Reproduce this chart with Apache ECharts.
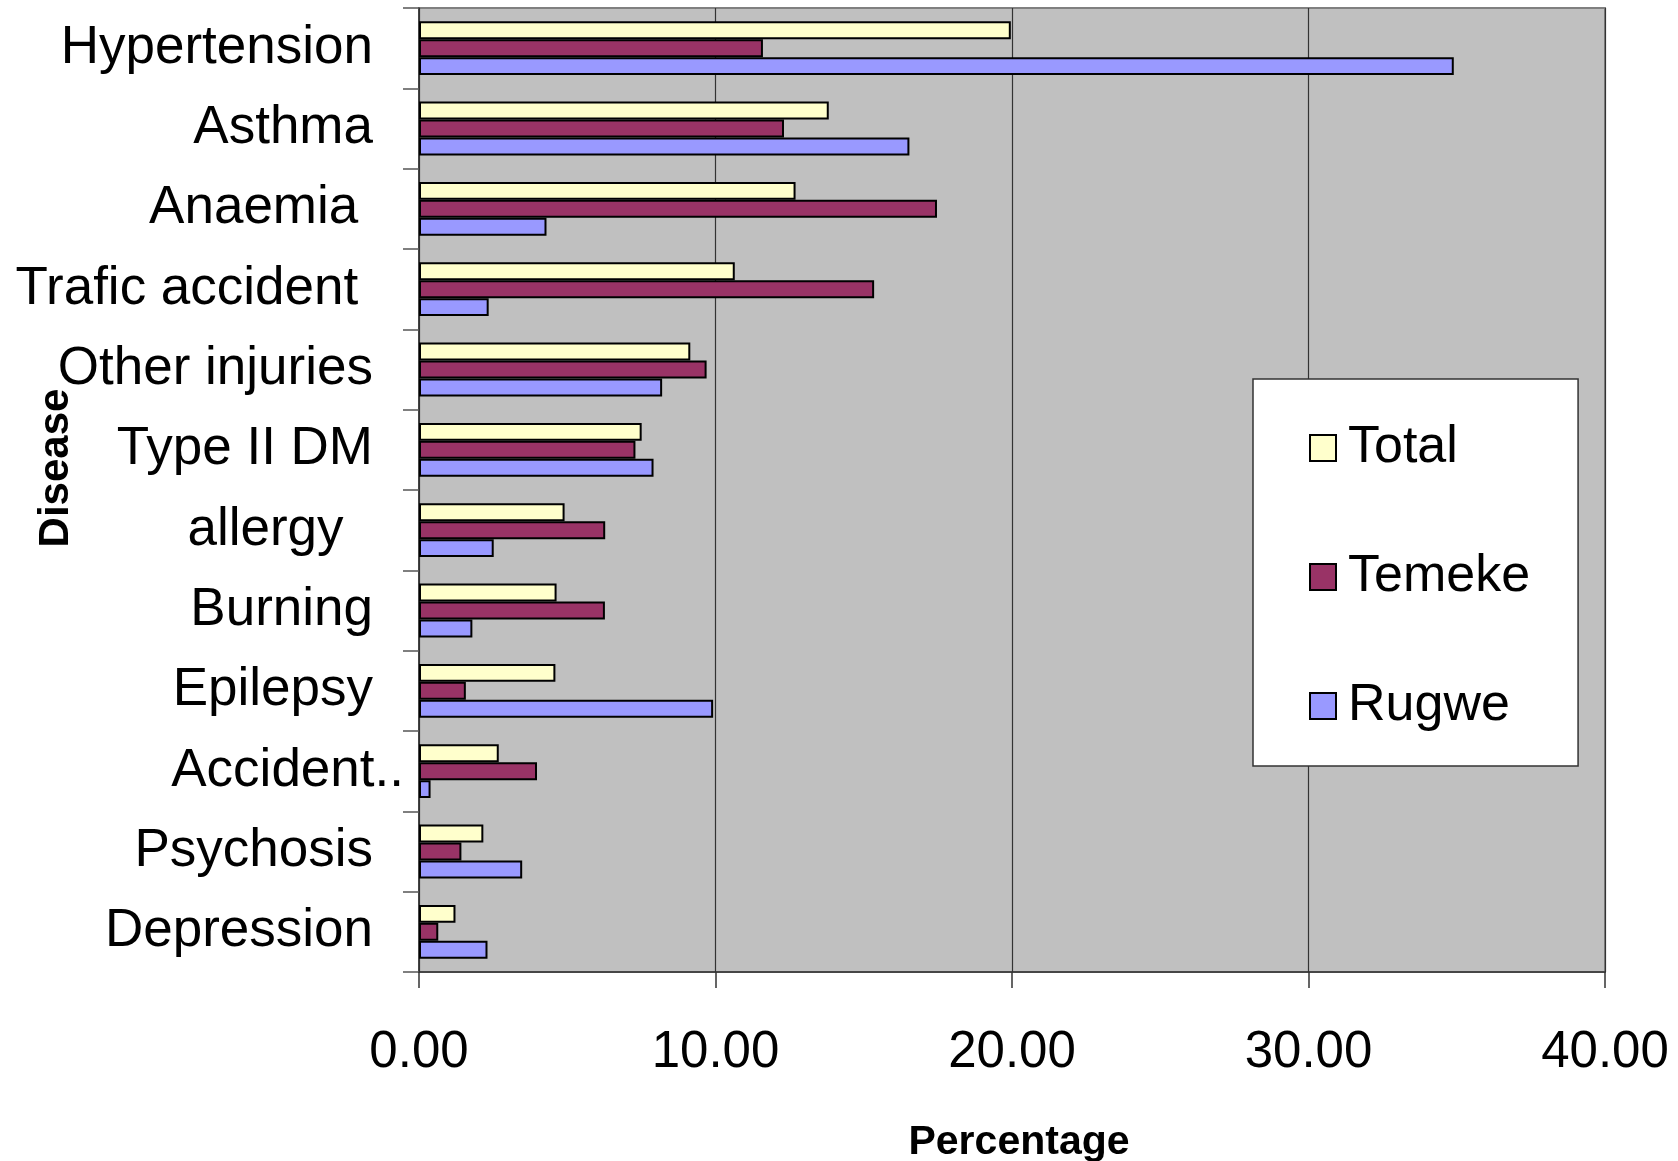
<!DOCTYPE html>
<html>
<head>
<meta charset="utf-8">
<style>
  html, body { margin: 0; padding: 0; background: #ffffff; }
  #chart { width: 1678px; height: 1161px; }
</style>
<script src="https://cdn.jsdelivr.net/npm/echarts@6/dist/echarts.min.js"></script>
</head>
<body>
<div id="chart"></div>
<script>
const categories = ['Hypertension', 'Asthma', 'Anaemia ', 'Trafic accident ', 'Other injuries', 'Type II DM', 'allergy  ', 'Burning', 'Epilepsy', 'Accident..', 'Psychosis', 'Depression'];
const totalValues  = [19.96, 13.82, 12.70, 10.65, 9.15, 7.51, 4.91, 4.64, 4.60, 2.69, 2.17, 1.23];
const temekeValues = [11.60, 12.31, 17.47, 15.35, 9.70, 7.30, 6.28, 6.27, 1.58, 3.98, 1.43, 0.65];
const rugweValues  = [34.90, 16.54, 4.30, 2.35, 8.20, 7.91, 2.52, 1.80, 9.92, 0.39, 3.48, 2.31];
const xTicks = [0, 10, 20, 30, 40];

const FONT = "'Liberation Sans', Arial, sans-serif";
const chart = echarts.init(document.getElementById('chart'), null, { renderer: 'canvas' });

function barSeries(name, data, color) {
  return {
    name: name,
    type: 'bar',
    data: data,
    barGap: '0%',
    barCategoryGap: '33%',
    itemStyle: { color: color, borderColor: '#000000', borderWidth: 2 },
    emphasis: { disabled: true }
  };
}

chart.setOption({
  animation: false,
  backgroundColor: '#ffffff',
  textStyle: { fontFamily: FONT },
  grid: {
    left: 419, right: 73, top: 8, bottom: 189,
    show: true, backgroundColor: '#C0C0C0', borderColor: '#808080', borderWidth: 2,
    containLabel: false,
    outerBoundsMode: 'none'
  },
  legend: {
    orient: 'vertical',
    left: 1253, top: 379,
    padding: [39, 48, 30, 56],
    backgroundColor: '#ffffff',
    borderColor: '#333333', borderWidth: 1.5,
    icon: 'rect',
    itemWidth: 26, itemHeight: 26, itemGap: 69,
    selectedMode: false,
    itemStyle: { borderColor: '#000000', borderWidth: 2 },
    textStyle: { fontFamily: FONT, fontSize: 52, color: '#000', lineHeight: 60, padding: [0, 0, 0, 7] },
    data: ['Total', 'Temeke', 'Rugwe']
  },
  xAxis: {
    type: 'value',
    min: xTicks[0], max: xTicks[xTicks.length - 1], interval: 10,
    name: 'Percentage',
    nameLocation: 'middle',
    nameGap: 150,
    nameMoveOverlap: false,
    nameTextStyle: { fontFamily: FONT, fontSize: 41, fontWeight: 'bold', color: '#000', padding: [0, 0, 0, 14] },
    axisLine: { show: true, lineStyle: { color: '#333333', width: 1.5 } },
    axisTick: { show: true, length: 16, lineStyle: { color: '#333333', width: 1.5 } },
    axisLabel: {
      margin: 55, fontFamily: FONT, fontSize: 51, color: '#000',
      formatter: v => v.toFixed(2)
    },
    splitLine: { show: true, lineStyle: { color: '#333333', width: 1.2 } }
  },
  yAxis: {
    type: 'category',
    data: categories,
    inverse: true,
    name: 'Disease',
    nameLocation: 'middle',
    nameGap: 342,
    nameRotate: 90,
    nameMoveOverlap: false,
    nameTextStyle: { fontFamily: "'Liberation Sans Narrow', 'Liberation Sans', Arial, sans-serif", fontSize: 42, fontWeight: 'bold', color: '#000', padding: [0, 0, 0, 44] },
    axisLine: { show: true, lineStyle: { color: '#333333', width: 1.5 } },
    axisTick: { show: true, length: 16, alignWithLabel: false, lineStyle: { color: '#555555', width: 1.5 } },
    axisLabel: {
      margin: 15, interval: 0,
      fontFamily: FONT, fontSize: 53, color: '#000',
      formatter: v => v === 'Accident..' ? '{x|' + v + '}' : '{n|' + v + '}',
      rich: {
        n: { fontFamily: FONT, fontSize: 53, color: '#000', padding: [0, 31, 0, 0] },
        x: { fontFamily: FONT, fontSize: 53, color: '#000', padding: [0, 0, 0, 0] }
      }
    },
    splitLine: { show: false }
  },
  series: [
    barSeries('Total', totalValues, '#FFFFCC'),
    barSeries('Temeke', temekeValues, '#993366'),
    barSeries('Rugwe', rugweValues, '#9999FF')
  ]
});
</script>
</body>
</html>
